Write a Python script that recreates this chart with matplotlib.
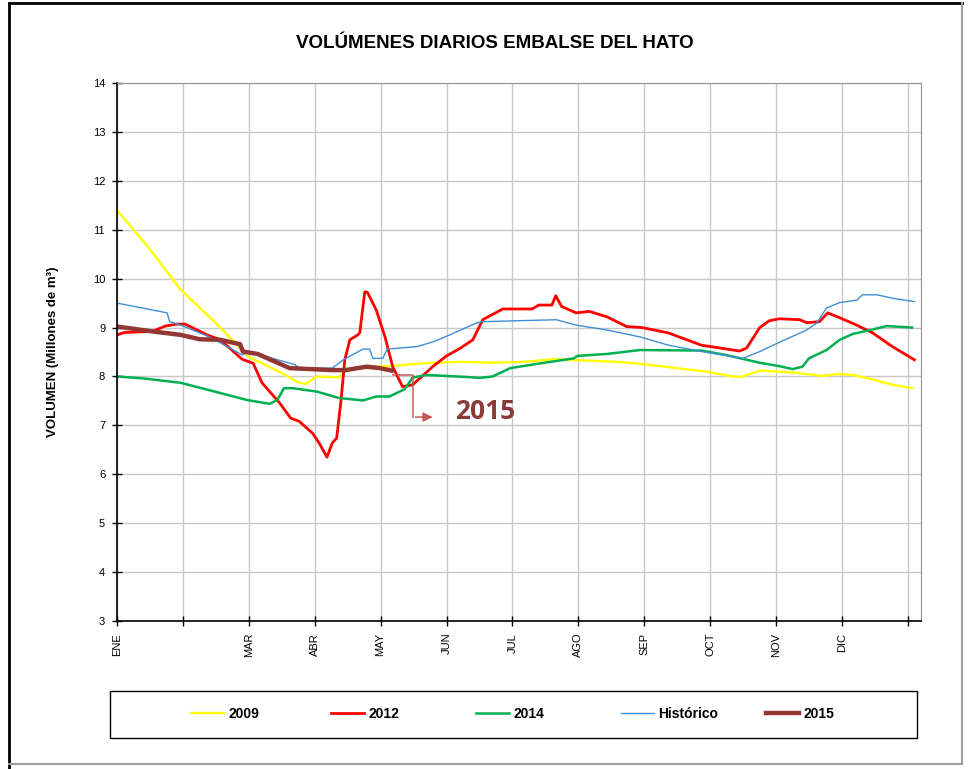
import matplotlib
matplotlib.use('Agg')
import matplotlib.pyplot as plt
from matplotlib.lines import Line2D
from matplotlib.patches import Rectangle

plt.rcParams['font.family'] = ['Liberation Sans', 'DejaVu Sans']

# eje x: dia del año, marcas cada 30 dias
month_ticks = [0, 30, 60, 90, 120, 150, 180, 210, 240, 270, 300, 330, 360]
month_labels = ['ENE', '', 'MAR', 'ABR', 'MAY', 'JUN', 'JUL', 'AGO', 'SEP', 'OCT', 'NOV', 'DIC', '']

dias_2009 = [0, 15, 29, 45, 60, 75, 83, 86, 89, 91, 101, 104, 110, 124, 140, 156, 170, 186,
             200, 205, 227, 238, 268, 280, 284, 293, 308, 321, 328, 335, 343, 353, 362]
vol_2009 = [11.4, 10.6, 9.77, 9.09, 8.4, 8.07, 7.87, 7.85, 7.94, 8.0, 7.98, 8.1, 8.19, 8.21, 8.27, 8.3, 8.28, 8.3,
            8.36, 8.34, 8.3, 8.26, 8.1, 8.0, 7.99, 8.12, 8.08, 8.01, 8.05, 8.03, 7.95, 7.83, 7.76]

dias_2012 = [0, 3.5, 16, 22, 27, 31, 41, 47, 57, 62, 66, 74, 79, 83, 89, 92, 95.6, 98, 100, 102,
             103.7, 106, 109.6, 110.5, 112.8, 114, 118, 122, 125.5, 130, 134.6, 143.7, 150, 156, 162,
             166.5, 175.6, 189, 192, 198, 199.7, 202.4, 209, 215, 223, 232, 239, 251, 266, 283.4,
             286.6, 292.6, 297, 301.6, 310.8, 314, 319.8, 323.5, 329, 336.7, 344, 353, 363]
vol_2012 = [8.85, 8.9, 8.92, 9.03, 9.07, 9.07, 8.85, 8.75, 8.35, 8.27, 7.87, 7.46, 7.15, 7.08, 6.84, 6.64, 6.35, 6.64, 6.74, 7.52,
            8.34, 8.75, 8.85, 8.89, 9.73, 9.72, 9.36, 8.81, 8.2, 7.79, 7.83, 8.2, 8.42, 8.57, 8.75,
            9.16, 9.38, 9.38, 9.46, 9.46, 9.65, 9.43, 9.3, 9.33, 9.22, 9.02, 9.0, 8.89, 8.64, 8.52,
            8.58, 9.0, 9.14, 9.18, 9.16, 9.1, 9.12, 9.3, 9.2, 9.05, 8.89, 8.61, 8.34]

dias_2014 = [0, 12, 29, 42, 59, 69.5, 73, 76, 80, 91, 101, 112, 118, 124, 131, 134.6, 141, 159, 165,
             171, 179, 193, 208, 209.5, 223, 238, 266, 277, 292.6, 301.6, 307.6, 312, 315, 323, 329,
             335, 343, 350.4, 362]
vol_2014 = [8.0, 7.96, 7.87, 7.72, 7.52, 7.44, 7.52, 7.76, 7.76, 7.69, 7.56, 7.51, 7.59, 7.59, 7.74, 7.98, 8.03, 7.99, 7.97,
            8.0, 8.17, 8.27, 8.37, 8.42, 8.46, 8.54, 8.53, 8.44, 8.28, 8.21, 8.15, 8.2, 8.37, 8.54, 8.75,
            8.87, 8.95, 9.03, 9.0]

dias_hist = [0, 22.8, 24, 29, 42, 57, 60, 81, 83, 98, 103, 112, 115, 116.5, 121, 123, 136.5, 144,
             151.5, 159, 164, 166.5, 200, 209, 223, 238, 251, 266, 285, 292.6, 301.6, 314, 318.5,
             323, 329, 336.7, 339.4, 346, 353, 363]
vol_hist = [9.5, 9.3, 9.12, 9.05, 8.81, 8.44, 8.51, 8.24, 8.17, 8.17, 8.34, 8.56, 8.56, 8.37, 8.37, 8.56, 8.61, 8.71,
            8.85, 9.0, 9.1, 9.12, 9.16, 9.05, 8.95, 8.81, 8.64, 8.51, 8.37, 8.51, 8.7, 8.95, 9.09,
            9.4, 9.51, 9.56, 9.67, 9.67, 9.6, 9.53]

dias_2015 = [0, 16.3, 29, 37.7, 46.8, 56, 57.3, 64, 78.6, 98, 104, 113.7, 119.6, 125]
vol_2015 = [9.02, 8.92, 8.85, 8.76, 8.75, 8.66, 8.51, 8.46, 8.17, 8.13, 8.13, 8.2, 8.17, 8.12]

W, H = 974, 769
fig = plt.figure(figsize=(W / 100, H / 100), dpi=100)
ax = fig.add_axes([117 / W, 1 - 621 / H, (921 - 117) / W, (621 - 83) / H])

series = [
    (dias_2009, vol_2009, '#ffff00', 1.7, '2009'),
    (dias_2012, vol_2012, '#ff0000', 2.0, '2012'),
    (dias_2014, vol_2014, '#00b050', 1.8, '2014'),
    (dias_hist, vol_hist, '#3f8fd6', 1.0, 'Histórico'),
    (dias_2015, vol_2015, '#943634', 3.2, '2015'),
]
handles = []
for d, v, c, lw, lab in series:
    h, = ax.plot(d, v, color=c, lw=lw, label=lab, solid_joinstyle='round')
    handles.append(h)

ax.set_xlim(0, 366)
ax.set_ylim(3, 14)
ax.set_yticks(range(3, 15))
ax.set_xticks(month_ticks)
ax.set_xticklabels(month_labels, rotation=90, fontsize=8)
ax.tick_params(axis='y', labelsize=8, pad=5)
ax.tick_params(direction='inout', length=7, width=1, color='black')
ax.tick_params(axis='x', pad=5)
ax.grid(color='#c8c8c8', lw=1)
ax.set_axisbelow(True)
for s in ['top', 'right']:
    ax.spines[s].set_color('#909090')
for s in ['left', 'bottom']:
    ax.spines[s].set_color('black')
    ax.spines[s].set_linewidth(1.2)

ax.set_ylabel('VOLUMEN (Millones de m³)', fontsize=9.5, fontweight='bold', labelpad=24)
fig.text(495 / W, 1 - 43 / H, 'VOLÚMENES DIARIOS EMBALSE DEL HATO', ha='center', va='center',
         fontsize=13.5, fontweight='bold')

# conector y etiqueta 2015
arr_col = '#c0504d'
ax.plot([125.5, 134.6, 134.6], [8.03, 8.03, 7.17], color=arr_col, lw=1.2, alpha=0.85)
ax.annotate('', xy=(145, 7.17), xytext=(134.6, 7.17),
            arrowprops=dict(arrowstyle='-|>', color=arr_col, lw=1.2, mutation_scale=14, alpha=0.85))
ax.text(154, 7.29, '2015', ha='left', va='center', fontsize=19, fontweight='bold',
        color='#8b3a3a', family=['Open Sans', 'DejaVu Sans'])

# cuadro de la leyenda
fig.add_artist(Rectangle((110 / W, 1 - 738 / H), 807 / W, 47 / H, transform=fig.transFigure,
                         fill=False, edgecolor='black', lw=1))
leg_x = [184, 324, 469, 614, 759]
for h, lx in zip(handles, leg_x):
    fig.legend(handles=[h], loc='center left', bbox_to_anchor=(lx / W, 1 - 714 / H), frameon=False,
               handlelength=2.4, handletextpad=0.3, borderpad=0, prop={'weight': 'bold', 'size': 10})

# marco exterior
fig.add_artist(Line2D([9 / W, 9 / W], [0, 1 - 3 / H], color='black', lw=2, transform=fig.transFigure))
fig.add_artist(Line2D([9 / W, 962 / W], [1 - 3 / H, 1 - 3 / H], color='black', lw=2, transform=fig.transFigure))
fig.add_artist(Line2D([962 / W, 962 / W], [1 - 764 / H, 1 - 3 / H], color='#a0a0a0', lw=1.5, transform=fig.transFigure))
fig.add_artist(Line2D([9 / W, 962 / W], [1 - 764 / H, 1 - 764 / H], color='#a0a0a0', lw=1.5, transform=fig.transFigure))

fig.savefig('out.png', dpi=100)
